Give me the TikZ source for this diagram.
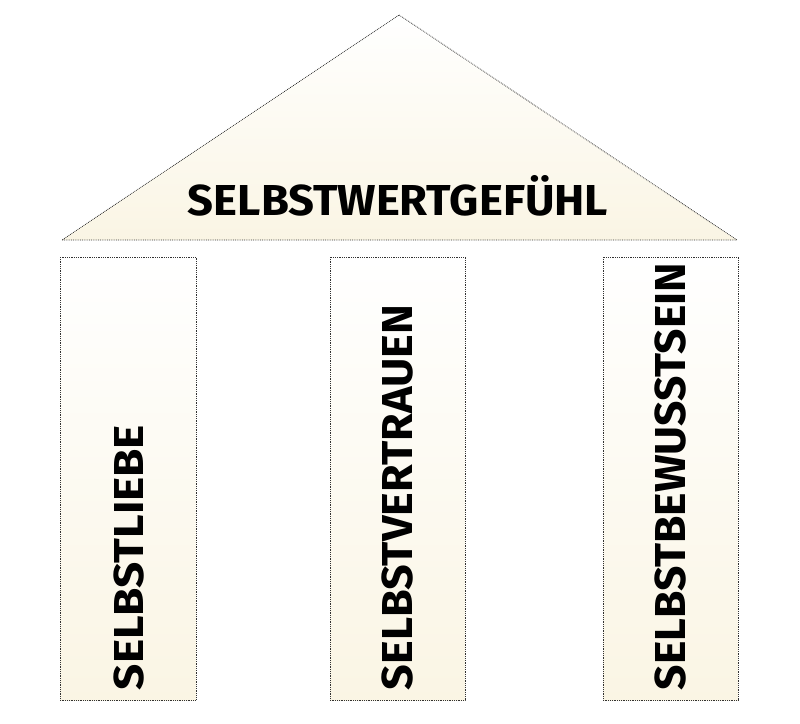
\documentclass[tikz,border=0pt]{standalone}
\usepackage{fontspec}
\setmainfont{Fira Sans}
\usepackage{graphicx}
\definecolor{cream}{RGB}{250,245,228}
\definecolor{dotline}{RGB}{50,50,50}
\newcommand\captext[3]{\resizebox{#1}{#2}{\bfseries\setbox0\hbox{H}\raisebox{0pt}[\ht0][0pt]{#3}}}
\begin{document}
\begin{tikzpicture}[x=1pt,y=-1pt,
  dotborder/.style={draw=dotline,line width=0.8pt,dash pattern=on 0.8pt off 1pt},
  fade/.style={top color=white,bottom color=cream},
  label/.style={inner sep=0pt,text=black}]
\useasboundingbox (0,0) rectangle (800,723);
% roof
\shade[fade] (399,15) -- (737,240) -- (62,240) -- cycle;
\draw[dotborder] (399,15) -- (737,240) -- (62,240) -- cycle;
% pillars
\foreach \xa/\xb in {60/196,330/465,603/738}{
  \shade[fade] (\xa,257) rectangle (\xb,700);
  \draw[dotborder] (\xa,257) rectangle (\xb,700);
}
\node[label] (roof) at (398,200) {\captext{420pt}{30pt}{SELBSTWERTGEFÜHL}};
\node[label,rotate=90] (p1) at (129,557.5) {\captext{265pt}{29pt}{SELBSTLIEBE}};
\node[label,rotate=90] (p2) at (397.5,497.5) {\captext{385pt}{30pt}{SELBSTVERTRAUEN}};
\node[label,rotate=90] (p3) at (670,476.5) {\captext{427pt}{30pt}{SELBSTBEWUSSTSEIN}};
\end{tikzpicture}
\end{document}
